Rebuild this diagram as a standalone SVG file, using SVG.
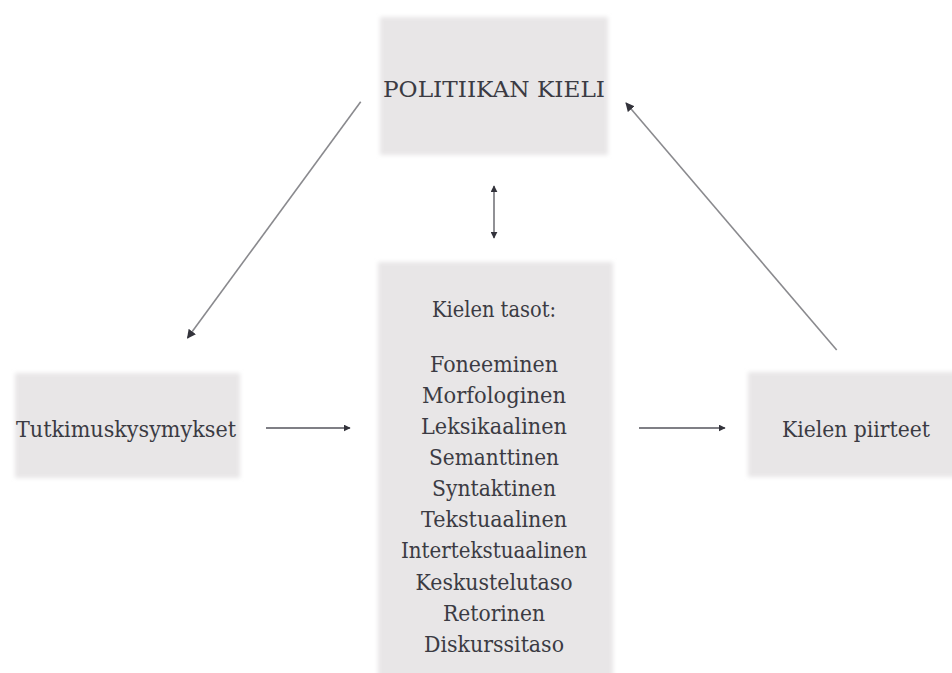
<svg xmlns="http://www.w3.org/2000/svg" width="952" height="673" viewBox="0 0 952 673">
<defs>
<filter id="soft" x="-10%" y="-10%" width="120%" height="120%"><feGaussianBlur stdDeviation="2"/></filter>
<marker id="ah" viewBox="0 0 10 10" refX="9" refY="5" markerWidth="7" markerHeight="7" orient="auto-start-reverse" markerUnits="userSpaceOnUse"><path d="M0,0 L10,5 L0,10 z" fill="#33333b"/></marker>
<marker id="ahs" viewBox="0 0 10 10" refX="9" refY="5" markerWidth="9" markerHeight="9" orient="auto-start-reverse" markerUnits="userSpaceOnUse"><path d="M0,0 L10,5 L0,10 z" fill="#33333b"/></marker>
</defs>
<style>
.box{fill:#e8e6e7;}
.t{font-family:"DejaVu Serif","Liberation Serif",serif;font-size:23px;fill:#3b3b43;text-anchor:middle;}
.c{stroke:#55555c;stroke-width:1.3;fill:none;}
.d{stroke:#8a8a8e;stroke-width:1.6;fill:none;}
</style>
<rect width="952" height="673" fill="#ffffff"/>
<g id="politiikan-kieli">
<rect class="box" x="380" y="17" width="228" height="138" filter="url(#soft)"/>
<text class="t" x="494" y="97" textLength="222" lengthAdjust="spacingAndGlyphs">POLITIIKAN KIELI</text>
</g>
<g id="kielen-tasot">
<rect class="box" x="378" y="262" width="235" height="420" filter="url(#soft)"/>
<text class="t" x="494" y="317" textLength="124" lengthAdjust="spacingAndGlyphs">Kielen tasot:</text>
<text class="t" x="494" y="372" textLength="128" lengthAdjust="spacingAndGlyphs">Foneeminen</text>
<text class="t" x="494" y="403" textLength="144" lengthAdjust="spacingAndGlyphs">Morfologinen</text>
<text class="t" x="494" y="434" textLength="146" lengthAdjust="spacingAndGlyphs">Leksikaalinen</text>
<text class="t" x="494" y="465" textLength="130" lengthAdjust="spacingAndGlyphs">Semanttinen</text>
<text class="t" x="494" y="496" textLength="124" lengthAdjust="spacingAndGlyphs">Syntaktinen</text>
<text class="t" x="494" y="527" textLength="146" lengthAdjust="spacingAndGlyphs">Tekstuaalinen</text>
<text class="t" x="494" y="558" textLength="186" lengthAdjust="spacingAndGlyphs">Intertekstuaalinen</text>
<text class="t" x="494" y="590" textLength="157" lengthAdjust="spacingAndGlyphs">Keskustelutaso</text>
<text class="t" x="494" y="621" textLength="102" lengthAdjust="spacingAndGlyphs">Retorinen</text>
<text class="t" x="494" y="652" textLength="140" lengthAdjust="spacingAndGlyphs">Diskurssitaso</text>
</g>
<g id="tutkimuskysymykset">
<rect class="box" x="15" y="373" width="225" height="105" filter="url(#soft)"/>
<text class="t" x="126" y="437" textLength="220" lengthAdjust="spacingAndGlyphs">Tutkimuskysymykset</text>
</g>
<g id="kielen-piirteet">
<rect class="box" x="748" y="372" width="210" height="105" filter="url(#soft)"/>
<text class="t" x="856" y="437" textLength="148" lengthAdjust="spacingAndGlyphs">Kielen piirteet</text>
</g>
<g id="connectors">
<line class="d" x1="360.7" y1="101.7" x2="187.5" y2="338" marker-end="url(#ahs)"/>
<line class="d" x1="836.7" y1="350" x2="626" y2="103" marker-end="url(#ahs)"/>
<line class="c" x1="494" y1="186" x2="494" y2="238" marker-start="url(#ah)" marker-end="url(#ah)"/>
<line class="c" x1="266" y1="428" x2="350" y2="428" marker-end="url(#ah)"/>
<line class="c" x1="639" y1="428" x2="725" y2="428" marker-end="url(#ah)"/>
</g>
</svg>
